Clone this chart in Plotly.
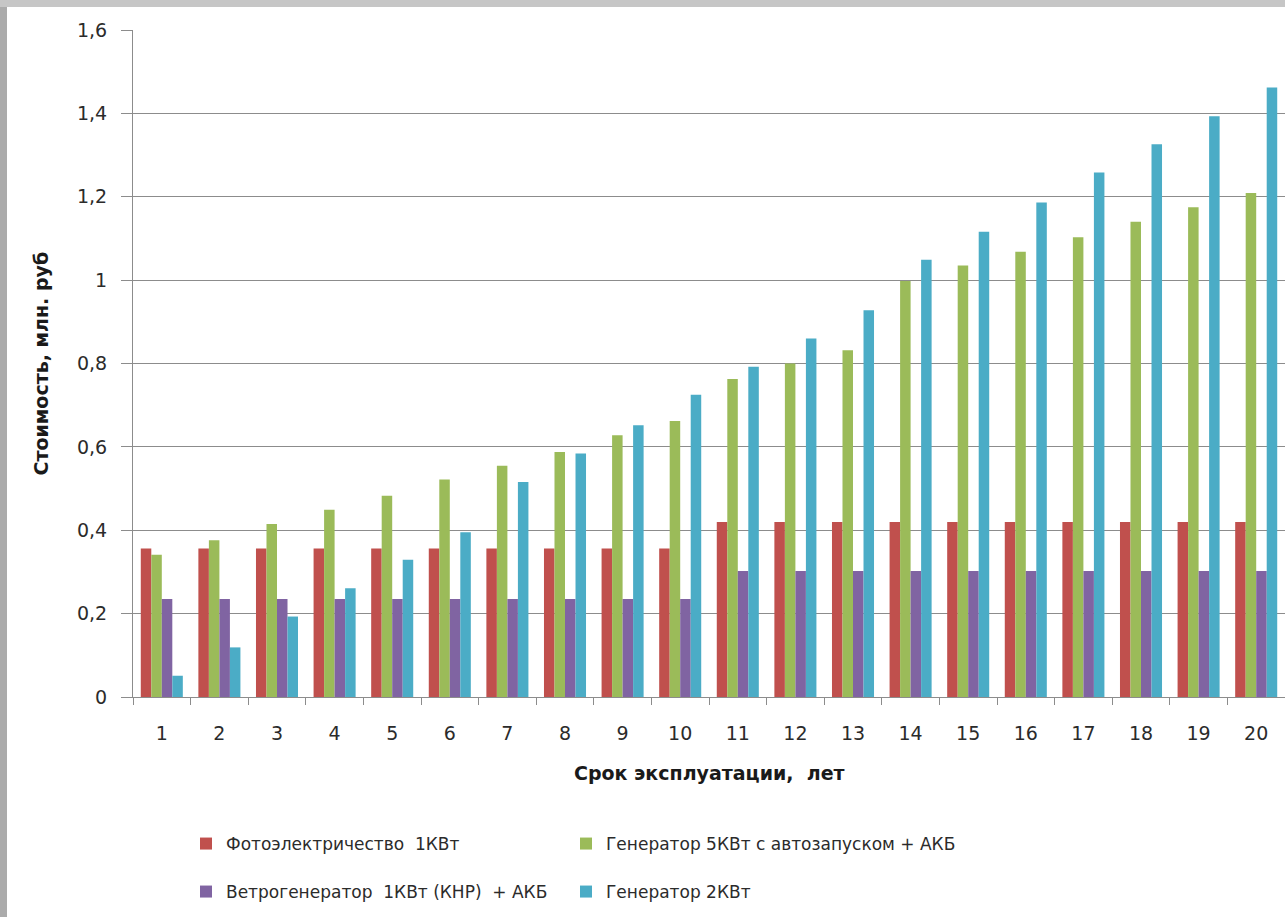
import plotly.graph_objects as go

years = [str(i) for i in range(1, 21)]

series_names = [
    "Фотоэлектричество  1КВт",
    "Генератор 5КВт с автозапуском + АКБ",
    "Ветрогенератор  1КВт (КНР)  + АКБ",
    "Генератор 2КВт",
]

photo = [0.356, 0.356, 0.356, 0.356, 0.356, 0.356, 0.356, 0.356, 0.356, 0.356,
         0.42, 0.42, 0.42, 0.42, 0.42, 0.42, 0.42, 0.42, 0.42, 0.42]
gen5 = [0.341, 0.376, 0.415, 0.449, 0.483, 0.522, 0.555, 0.588, 0.628, 0.662,
        0.763, 0.800, 0.832, 0.998, 1.035, 1.068, 1.103, 1.140, 1.175, 1.209]
wind = [0.235, 0.235, 0.235, 0.235, 0.235, 0.235, 0.235, 0.235, 0.235, 0.235,
        0.302, 0.302, 0.302, 0.302, 0.302, 0.302, 0.302, 0.302, 0.302, 0.302]
gen2 = [0.051, 0.119, 0.193, 0.261, 0.329, 0.395, 0.516, 0.584, 0.652, 0.725,
        0.792, 0.860, 0.928, 1.049, 1.116, 1.186, 1.258, 1.326, 1.393, 1.462]

y_tickvals = [0, 0.2, 0.4, 0.6, 0.8, 1.0, 1.2, 1.4, 1.6]
y_ticktext = ["0", "0,2", "0,4", "0,6", "0,8", "1", "1,2", "1,4", "1,6"]

colors = ["#C0504D", "#9BBB59", "#8064A2", "#4BACC6"]
values = [photo, gen5, wind, gen2]

W, H = 1285, 917
ML, MR, MT, MB = 133, 0, 30, 220
PW, PH = W - ML - MR, H - MT - MB


def px_x(x):
    return (x - ML) / PW


def px_y(y):
    return (H - MB - y) / PH


FONT = "DejaVu Sans"
TXT = "#2b2b2b"
fig = go.Figure()
legend_ids = ["legend", "legend2", "legend3", "legend4"]
for name, vals, col, lg in zip(series_names, values, colors, legend_ids):
    fig.add_trace(go.Bar(x=years, y=vals, name=name, marker_color=col,
                         marker_line_width=0, legend=lg))

leg_pos = [(186, 844), (566, 844), (186, 892), (566, 892)]
leg_common = dict(orientation="h", xanchor="left", yanchor="middle",
                  font=dict(family=FONT, size=17, color=TXT),
                  bgcolor="rgba(0,0,0,0)", borderwidth=0)
legend_layout = {}
for lg, (lx, ly) in zip(legend_ids, leg_pos):
    legend_layout[lg] = dict(x=px_x(lx), y=px_y(ly), **leg_common)

grid_col = "#8C8C8C"
fig.update_layout(
    width=W, height=H,
    margin=dict(l=ML, r=MR, t=MT, b=MB),
    paper_bgcolor="white", plot_bgcolor="white",
    barmode="group", bargap=0.27, bargroupgap=0,
    showlegend=True,
    font=dict(family=FONT, color=TXT),
    xaxis=dict(
        type="category", showgrid=False, showline=True, linecolor=grid_col,
        linewidth=1, ticks="outside", ticklen=7, tickcolor=grid_col,
        tickson="boundaries", tickfont=dict(family=FONT, size=19, color=TXT),
        ticklabelstandoff=19, zeroline=False,
    ),
    yaxis=dict(
        range=[0, 1.6], tickvals=y_tickvals, ticktext=y_ticktext,
        showgrid=True, gridcolor=grid_col, gridwidth=1,
        showline=True, linecolor=grid_col, linewidth=1,
        ticks="outside", ticklen=11, tickcolor=grid_col,
        tickfont=dict(family=FONT, size=19, color=TXT),
        ticklabelstandoff=10, zeroline=False,
    ),
    **legend_layout,
)

fig.add_annotation(text="<b>Срок эксплуатации,  лет</b>", xref="paper", yref="paper",
                   x=0.5, y=px_y(773), xanchor="center", yanchor="middle",
                   showarrow=False, font=dict(family=FONT, size=19, color="#1a1a1a"))
fig.add_annotation(text="<b>Стоимость, млн. руб</b>", xref="paper", yref="paper",
                   x=px_x(40), y=0.5, xanchor="center", yanchor="middle", textangle=-90,
                   showarrow=False, font=dict(family=FONT, size=19, color="#1a1a1a"))

# grey frame strips at left and top
fig.add_shape(type="rect", xref="paper", yref="paper", x0=px_x(0), x1=px_x(7),
              y0=px_y(H), y1=px_y(0), fillcolor="#ABABAB", line_width=0, layer="above")
fig.add_shape(type="rect", xref="paper", yref="paper", x0=px_x(0), x1=px_x(W),
              y0=px_y(7), y1=px_y(0), fillcolor="#C6C6C6", line_width=0, layer="above")

fig.write_html("out.html", config={"displayModeBar": False},
               post_script="document.body.style.margin='0px';")
